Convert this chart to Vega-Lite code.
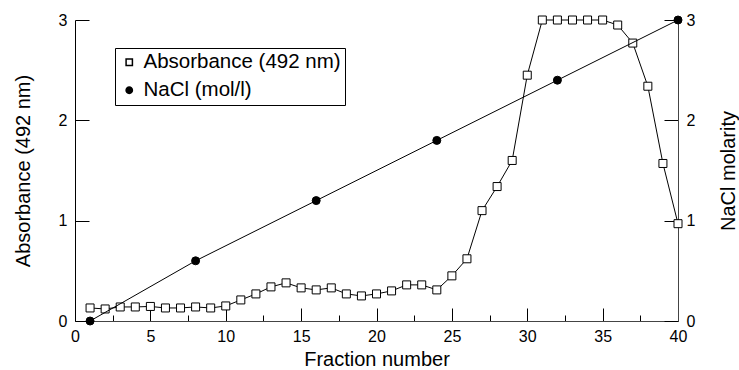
{
  "$schema": "https://vega.github.io/schema/vega-lite/v6.json",
  "autosize": {"type": "none"},
  "width": 603,
  "height": 301,
  "padding": {"left": 75, "top": 20, "right": 61, "bottom": 49},
  "background": "white",
  "config": {
    "view": {"stroke": null},
    "font": "Liberation Sans",
    "axis": {
      "grid": false,
      "labelFont": "Liberation Sans",
      "titleFont": "Liberation Sans",
      "labelFontSize": 16,
      "titleFontSize": 20,
      "titleFontWeight": "normal",
      "labelColor": "black",
      "titleColor": "black",
      "tickColor": "black",
      "tickWidth": 1,
      "domainWidth": 1,
      "labelFlush": false,
      "labelOverlap": false
    },
    "legend": {
      "labelFont": "Liberation Sans",
      "labelFontSize": 20.5,
      "labelColor": "black",
      "labelLimit": 400
    }
  },
  "datasets": {
    "absorbance": [
      {"fraction": 1, "value": 0.13, "series": "Absorbance (492 nm)"},
      {"fraction": 2, "value": 0.12, "series": "Absorbance (492 nm)"},
      {"fraction": 3, "value": 0.14, "series": "Absorbance (492 nm)"},
      {"fraction": 4, "value": 0.14, "series": "Absorbance (492 nm)"},
      {"fraction": 5, "value": 0.145, "series": "Absorbance (492 nm)"},
      {"fraction": 6, "value": 0.13, "series": "Absorbance (492 nm)"},
      {"fraction": 7, "value": 0.13, "series": "Absorbance (492 nm)"},
      {"fraction": 8, "value": 0.14, "series": "Absorbance (492 nm)"},
      {"fraction": 9, "value": 0.13, "series": "Absorbance (492 nm)"},
      {"fraction": 10, "value": 0.15, "series": "Absorbance (492 nm)"},
      {"fraction": 11, "value": 0.21, "series": "Absorbance (492 nm)"},
      {"fraction": 12, "value": 0.27, "series": "Absorbance (492 nm)"},
      {"fraction": 13, "value": 0.34, "series": "Absorbance (492 nm)"},
      {"fraction": 14, "value": 0.38, "series": "Absorbance (492 nm)"},
      {"fraction": 15, "value": 0.33, "series": "Absorbance (492 nm)"},
      {"fraction": 16, "value": 0.31, "series": "Absorbance (492 nm)"},
      {"fraction": 17, "value": 0.33, "series": "Absorbance (492 nm)"},
      {"fraction": 18, "value": 0.27, "series": "Absorbance (492 nm)"},
      {"fraction": 19, "value": 0.25, "series": "Absorbance (492 nm)"},
      {"fraction": 20, "value": 0.27, "series": "Absorbance (492 nm)"},
      {"fraction": 21, "value": 0.3, "series": "Absorbance (492 nm)"},
      {"fraction": 22, "value": 0.36, "series": "Absorbance (492 nm)"},
      {"fraction": 23, "value": 0.36, "series": "Absorbance (492 nm)"},
      {"fraction": 24, "value": 0.31, "series": "Absorbance (492 nm)"},
      {"fraction": 25, "value": 0.45, "series": "Absorbance (492 nm)"},
      {"fraction": 26, "value": 0.62, "series": "Absorbance (492 nm)"},
      {"fraction": 27, "value": 1.1, "series": "Absorbance (492 nm)"},
      {"fraction": 28, "value": 1.34, "series": "Absorbance (492 nm)"},
      {"fraction": 29, "value": 1.6, "series": "Absorbance (492 nm)"},
      {"fraction": 30, "value": 2.45, "series": "Absorbance (492 nm)"},
      {"fraction": 31, "value": 3.0, "series": "Absorbance (492 nm)"},
      {"fraction": 32, "value": 3.0, "series": "Absorbance (492 nm)"},
      {"fraction": 33, "value": 3.0, "series": "Absorbance (492 nm)"},
      {"fraction": 34, "value": 3.0, "series": "Absorbance (492 nm)"},
      {"fraction": 35, "value": 3.0, "series": "Absorbance (492 nm)"},
      {"fraction": 36, "value": 2.95, "series": "Absorbance (492 nm)"},
      {"fraction": 37, "value": 2.77, "series": "Absorbance (492 nm)"},
      {"fraction": 38, "value": 2.34, "series": "Absorbance (492 nm)"},
      {"fraction": 39, "value": 1.57, "series": "Absorbance (492 nm)"},
      {"fraction": 40, "value": 0.97, "series": "Absorbance (492 nm)"}
    ],
    "nacl": [
      {"fraction": 1, "value": 0, "series": "NaCl (mol/l)"},
      {"fraction": 8, "value": 0.6, "series": "NaCl (mol/l)"},
      {"fraction": 16, "value": 1.2, "series": "NaCl (mol/l)"},
      {"fraction": 24, "value": 1.8, "series": "NaCl (mol/l)"},
      {"fraction": 32, "value": 2.4, "series": "NaCl (mol/l)"},
      {"fraction": 40, "value": 3.0, "series": "NaCl (mol/l)"}
    ]
  },
  "encoding": {
    "x": {
      "field": "fraction",
      "type": "quantitative",
      "scale": {"domain": [0, 40], "nice": false, "zero": false},
      "axis": {
        "title": "Fraction number",
        "values": [0, 2.5, 5, 7.5, 10, 12.5, 15, 17.5, 20, 22.5, 25, 27.5, 30, 32.5, 35, 37.5, 40],
        "labelExpr": "datum.value % 5 === 0 ? datum.label : ''",
        "tickSize": {"condition": {"test": "datum.value % 5 === 0", "value": -13}, "value": -6},
        "labelPadding": 20,
        "titlePadding": -2,
        "domainColor": "#444"
      }
    }
  },
  "layer": [
    {
      "data": {"name": "absorbance"},
      "encoding": {
        "y": {
          "field": "value",
          "type": "quantitative",
          "scale": {"domain": [0, 3], "nice": false},
          "axis": {
            "title": "Absorbance (492 nm)",
            "orient": "left",
            "values": [0, 1, 2, 3],
            "tickSize": -14,
            "labelPadding": 22,
            "titlePadding": 25,
            "domainColor": "black"
          }
        }
      },
      "layer": [
        {"mark": {"type": "line", "color": "black", "strokeWidth": 1}},
        {
          "mark": {"type": "point", "filled": true, "stroke": "black", "strokeWidth": 1, "opacity": 1, "size": 64},
          "encoding": {
            "shape": {"field": "series", "type": "nominal", "scale": {"domain": ["Absorbance (492 nm)", "NaCl (mol/l)"], "range": ["square", "circle"]}, "legend": {"title": null, "orient": "none", "legendX": 40, "legendY": 28, "padding": 4, "rowPadding": 7, "symbolSize": 40, "labelOffset": 4, "strokeColor": "black", "fillColor": "white", "labelLimit": 400, "encode": {"symbols": {"update": {"stroke": {"value": "black"}, "strokeWidth": {"value": 1}}}}}},
            "fill": {"field": "series", "type": "nominal", "scale": {"domain": ["Absorbance (492 nm)", "NaCl (mol/l)"], "range": ["white", "black"]}, "legend": {"title": null, "orient": "none", "legendX": 40, "legendY": 28, "padding": 4, "rowPadding": 7, "symbolSize": 40, "labelOffset": 4, "strokeColor": "black", "fillColor": "white", "labelLimit": 400, "encode": {"symbols": {"update": {"stroke": {"value": "black"}, "strokeWidth": {"value": 1}}}}}}
          }
        }
      ]
    },
    {
      "data": {"name": "nacl"},
      "encoding": {
        "y": {
          "field": "value",
          "type": "quantitative",
          "scale": {"domain": [0, 3], "nice": false},
          "axis": {
            "title": "NaCl molarity",
            "orient": "right",
            "values": [0, 1, 2, 3],
            "tickSize": -14,
            "labelPadding": 22,
            "titlePadding": 24,
            "titleAngle": 270,
            "titleBaseline": "top",
            "domainColor": "#444"
          }
        }
      },
      "layer": [
        {"mark": {"type": "line", "color": "black", "strokeWidth": 1}},
        {
          "mark": {"type": "point", "filled": true, "stroke": "black", "strokeWidth": 1, "opacity": 1, "size": 64},
          "encoding": {
            "shape": {"field": "series", "type": "nominal"},
            "fill": {"field": "series", "type": "nominal"}
          }
        }
      ]
    }
  ],
  "resolve": {"scale": {"y": "independent"}}
}
